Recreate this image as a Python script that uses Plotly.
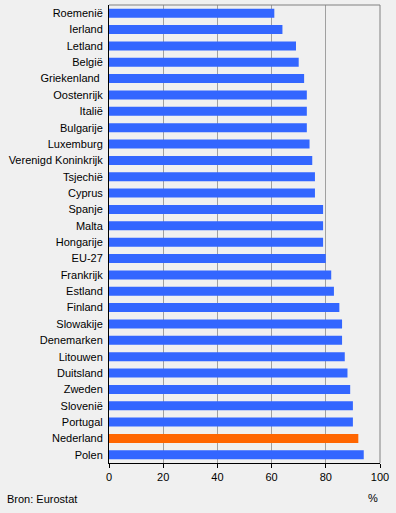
import plotly.graph_objects as go

countries = ["Roemenië", "Ierland", "Letland", "België", "Griekenland\u00a0", "Oostenrijk", "Italië",
             "Bulgarije", "Luxemburg", "Verenigd Koninkrijk", "Tsjechië", "Cyprus", "Spanje",
             "Malta", "Hongarije", "EU-27", "Frankrijk", "Estland", "Finland", "Slowakije",
             "Denemarken", "Litouwen", "Duitsland", "Zweden", "Slovenië", "Portugal",
             "Nederland", "Polen"]
values = [61, 64, 69, 70, 72, 73, 73, 73, 74, 75, 76, 76, 79, 79, 79, 80, 82, 83, 85, 86,
          86, 87, 88, 89, 90, 90, 92, 94]
highlight = "Nederland"
x_ticks = [0, 20, 40, 60, 80, 100]

colors = ["#ff6600" if c == highlight else "#3366ff" for c in countries]

fig = go.Figure(go.Bar(
    x=values, y=countries, orientation="h",
    marker=dict(color=colors, line=dict(width=0)),
    width=0.55, hoverinfo="x+y",
))

font = "Liberation Sans, Arial, sans-serif"
fig.update_layout(
    width=396, height=513,
    margin=dict(l=109, r=16, t=5, b=50, autoexpand=False),
    paper_bgcolor="#f0f0f0", plot_bgcolor="#f0f0f0",
    font=dict(family=font, size=11, color="#000000"),
    showlegend=False,
    bargap=0.45,
    xaxis=dict(range=[0, 100], tickvals=x_ticks, showgrid=True, gridcolor="#a0a0a0",
               gridwidth=1, zeroline=False, showline=True, linecolor="#000000",
               linewidth=1, ticks="outside", ticklen=4, tickcolor="#000000",
               tickfont=dict(size=11), fixedrange=True, automargin=False),
    yaxis=dict(autorange="reversed", showline=True, linecolor="#000000", linewidth=1,
               showgrid=False, ticks="", ticklabelstandoff=3, tickfont=dict(size=11),
               fixedrange=True, automargin=False),
    shapes=[
        dict(type="line", xref="x domain", yref="y domain", x0=0, x1=1, y0=1, y1=1,
             line=dict(color="#808080", width=1)),
        dict(type="line", xref="x domain", yref="y domain", x0=1, x1=1, y0=0, y1=1,
             line=dict(color="#808080", width=1)),
    ],
    annotations=[
        dict(text="Bron: Eurostat", xref="paper", yref="paper", x=-104/271, y=-36/458,
             xanchor="left", yanchor="middle", showarrow=False, font=dict(size=11)),
        dict(text="%", xref="paper", yref="paper", x=-7/271 + 1, y=-35/458,
             xanchor="center", yanchor="middle", showarrow=False, font=dict(size=11)),
    ],
)

fig.write_html("out.html", config={"displayModeBar": False},
               post_script="document.body.style.margin='0';")
